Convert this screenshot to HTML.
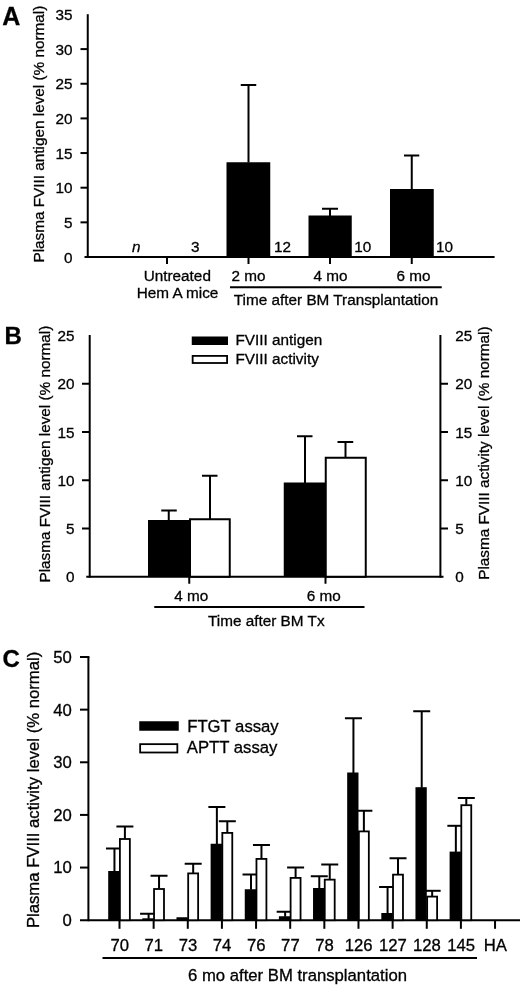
<!DOCTYPE html>
<html><head><meta charset="utf-8"><style>
html,body{margin:0;padding:0;background:#fff;}
svg{display:block;filter:blur(0.35px);}
text{font-family:"Liberation Sans", sans-serif;fill:#000;stroke:#000;stroke-width:0.3px;}
</style></head><body>
<svg width="520" height="990" viewBox="0 0 520 990">
<rect width="520" height="990" fill="#fff"/>
<text transform="translate(2.2,24.8)" font-size="25" text-anchor="start" font-weight="bold">A</text>
<line x1="87.75" y1="14.2" x2="87.75" y2="258.0" stroke="#000" stroke-width="2"/>
<line x1="80.5" y1="222.35" x2="87.75" y2="222.35" stroke="#000" stroke-width="2"/>
<line x1="80.5" y1="187.7" x2="87.75" y2="187.7" stroke="#000" stroke-width="2"/>
<line x1="80.5" y1="153.05" x2="87.75" y2="153.05" stroke="#000" stroke-width="2"/>
<line x1="80.5" y1="118.4" x2="87.75" y2="118.4" stroke="#000" stroke-width="2"/>
<line x1="80.5" y1="83.75" x2="87.75" y2="83.75" stroke="#000" stroke-width="2"/>
<line x1="80.5" y1="49.1" x2="87.75" y2="49.1" stroke="#000" stroke-width="2"/>
<text transform="translate(72.6,262.6)" font-size="15.3" text-anchor="end" >0</text>
<text transform="translate(72.6,227.95)" font-size="15.3" text-anchor="end" >5</text>
<text transform="translate(72.6,193.3)" font-size="15.3" text-anchor="end" >10</text>
<text transform="translate(72.6,158.65)" font-size="15.3" text-anchor="end" >15</text>
<text transform="translate(72.6,124.0)" font-size="15.3" text-anchor="end" >20</text>
<text transform="translate(72.6,89.35)" font-size="15.3" text-anchor="end" >25</text>
<text transform="translate(72.6,54.7)" font-size="15.3" text-anchor="end" >30</text>
<text transform="translate(72.6,20.05)" font-size="15.3" text-anchor="end" >35</text>
<line x1="84.5" y1="257.0" x2="494.6" y2="257.0" stroke="#000" stroke-width="2"/>
<line x1="167" y1="257.0" x2="167" y2="264" stroke="#000" stroke-width="2"/>
<line x1="248.5" y1="257.0" x2="248.5" y2="264" stroke="#000" stroke-width="2"/>
<line x1="330" y1="257.0" x2="330" y2="264" stroke="#000" stroke-width="2"/>
<line x1="411.75" y1="257.0" x2="411.75" y2="264" stroke="#000" stroke-width="2"/>
<text transform="translate(44.0,262.5) rotate(-90)" font-size="15.3" text-anchor="start">Plasma FVIII antigen level (% normal)</text>
<rect x="226.5" y="162.25" width="43.75" height="94.75" fill="#000"/>
<rect x="308.5" y="215.5" width="43.25" height="41.5" fill="#000"/>
<rect x="390" y="189" width="43.75" height="68.0" fill="#000"/>
<line x1="248.5" y1="162.5" x2="248.5" y2="85" stroke="#000" stroke-width="2"/>
<line x1="240.75" y1="85" x2="256.25" y2="85" stroke="#000" stroke-width="2"/>
<line x1="330" y1="216" x2="330" y2="208.75" stroke="#000" stroke-width="2"/>
<line x1="322" y1="208.75" x2="338" y2="208.75" stroke="#000" stroke-width="2"/>
<line x1="411.75" y1="189.5" x2="411.75" y2="155.5" stroke="#000" stroke-width="2"/>
<line x1="404" y1="155.5" x2="419.25" y2="155.5" stroke="#000" stroke-width="2"/>
<text transform="translate(132.0,251.8)" font-size="15.3" text-anchor="start" font-style="italic">n</text>
<text transform="translate(191,251.8)" font-size="15.3" text-anchor="start" >3</text>
<text transform="translate(274,251.8)" font-size="15.3" text-anchor="start" >12</text>
<text transform="translate(354.2,251.8)" font-size="15.3" text-anchor="start" >10</text>
<text transform="translate(436,251.8)" font-size="15.3" text-anchor="start" >10</text>
<text transform="translate(177.3,280.6)" font-size="15.3" text-anchor="middle" >Untreated</text>
<text transform="translate(177.5,297.6)" font-size="15.3" text-anchor="middle" >Hem A mice</text>
<text transform="translate(248.6,280.6)" font-size="15.3" text-anchor="middle" >2 mo</text>
<text transform="translate(330.5,280.6)" font-size="15.3" text-anchor="middle" >4 mo</text>
<text transform="translate(413.6,280.6)" font-size="15.3" text-anchor="middle" >6 mo</text>
<line x1="230" y1="287.2" x2="441.75" y2="287.2" stroke="#000" stroke-width="2"/>
<text transform="translate(336,304.6)" font-size="15.3" text-anchor="middle" >Time after BM Transplantation</text>
<text transform="translate(4.6,343.5)" font-size="24" text-anchor="start" font-weight="bold">B</text>
<line x1="89.7" y1="335" x2="89.7" y2="577.75" stroke="#000" stroke-width="2"/>
<line x1="440.4" y1="335" x2="440.4" y2="577.75" stroke="#000" stroke-width="2"/>
<line x1="82" y1="528.5" x2="89.7" y2="528.5" stroke="#000" stroke-width="2"/>
<line x1="440.4" y1="528.5" x2="448" y2="528.5" stroke="#000" stroke-width="2"/>
<line x1="82" y1="480.25" x2="89.7" y2="480.25" stroke="#000" stroke-width="2"/>
<line x1="440.4" y1="480.25" x2="448" y2="480.25" stroke="#000" stroke-width="2"/>
<line x1="82" y1="432.0" x2="89.7" y2="432.0" stroke="#000" stroke-width="2"/>
<line x1="440.4" y1="432.0" x2="448" y2="432.0" stroke="#000" stroke-width="2"/>
<line x1="82" y1="383.75" x2="89.7" y2="383.75" stroke="#000" stroke-width="2"/>
<line x1="440.4" y1="383.75" x2="448" y2="383.75" stroke="#000" stroke-width="2"/>
<text transform="translate(74.4,582.35)" font-size="15.3" text-anchor="end" >0</text>
<text transform="translate(455.2,582.35)" font-size="15.3" text-anchor="start" >0</text>
<text transform="translate(74.4,534.1)" font-size="15.3" text-anchor="end" >5</text>
<text transform="translate(455.2,534.1)" font-size="15.3" text-anchor="start" >5</text>
<text transform="translate(74.4,485.85)" font-size="15.3" text-anchor="end" >10</text>
<text transform="translate(455.2,485.85)" font-size="15.3" text-anchor="start" >10</text>
<text transform="translate(74.4,437.6)" font-size="15.3" text-anchor="end" >15</text>
<text transform="translate(455.2,437.6)" font-size="15.3" text-anchor="start" >15</text>
<text transform="translate(74.4,389.35)" font-size="15.3" text-anchor="end" >20</text>
<text transform="translate(455.2,389.35)" font-size="15.3" text-anchor="start" >20</text>
<text transform="translate(74.4,341.1)" font-size="15.3" text-anchor="end" >25</text>
<text transform="translate(455.2,341.1)" font-size="15.3" text-anchor="start" >25</text>
<line x1="86.25" y1="576.75" x2="443.5" y2="576.75" stroke="#000" stroke-width="2"/>
<line x1="189.25" y1="576.75" x2="189.25" y2="583.75" stroke="#000" stroke-width="2"/>
<line x1="325.5" y1="576.75" x2="325.5" y2="583.75" stroke="#000" stroke-width="2"/>
<text transform="translate(50.0,582.5) rotate(-90)" font-size="15.3" text-anchor="start">Plasma FVIII antigen level (% normal)</text>
<text transform="translate(489.0,579.8) rotate(-90)" font-size="15.3" text-anchor="start">Plasma FVIII activity level (% normal)</text>
<rect x="191.75" y="336.5" width="36.25" height="8.5" fill="#000"/>
<rect x="192.65" y="355.9" width="34.45" height="7.1" fill="#fff" stroke="#000" stroke-width="1.8"/>
<text transform="translate(235.5,345.3)" font-size="15.3" text-anchor="start" >FVIII antigen</text>
<text transform="translate(235.5,363.6)" font-size="15.3" text-anchor="start" >FVIII activity</text>
<line x1="168.75" y1="520.5" x2="168.75" y2="510.5" stroke="#000" stroke-width="2"/>
<line x1="161.25" y1="510.5" x2="176.75" y2="510.5" stroke="#000" stroke-width="2"/>
<line x1="210" y1="519" x2="210" y2="475.75" stroke="#000" stroke-width="2"/>
<line x1="202" y1="475.75" x2="217.5" y2="475.75" stroke="#000" stroke-width="2"/>
<rect x="148" y="520" width="41.5" height="56.75" fill="#000"/>
<rect x="190.0" y="519.25" width="39.75" height="57.5" fill="#fff" stroke="#000" stroke-width="2"/>
<line x1="305" y1="483" x2="305" y2="436.25" stroke="#000" stroke-width="2"/>
<line x1="297" y1="436.25" x2="312.5" y2="436.25" stroke="#000" stroke-width="2"/>
<line x1="345.5" y1="457" x2="345.5" y2="442" stroke="#000" stroke-width="2"/>
<line x1="337.5" y1="442" x2="353.25" y2="442" stroke="#000" stroke-width="2"/>
<rect x="283.75" y="482.5" width="41.75" height="94.25" fill="#000"/>
<rect x="325.75" y="457.75" width="40.0" height="119.0" fill="#fff" stroke="#000" stroke-width="2"/>
<text transform="translate(191.3,600.6)" font-size="15.3" text-anchor="middle" >4 mo</text>
<text transform="translate(323.8,600.6)" font-size="15.3" text-anchor="middle" >6 mo</text>
<line x1="154.25" y1="607" x2="364.5" y2="607" stroke="#000" stroke-width="2"/>
<text transform="translate(266.3,626.4)" font-size="15.3" text-anchor="middle" >Time after BM Tx</text>
<text transform="translate(2.6,666.8)" font-size="24" text-anchor="start" font-weight="bold">C</text>
<line x1="88.4" y1="657" x2="88.4" y2="921.2" stroke="#000" stroke-width="2"/>
<line x1="80" y1="867.56" x2="88.4" y2="867.56" stroke="#000" stroke-width="2"/>
<line x1="80" y1="814.92" x2="88.4" y2="814.92" stroke="#000" stroke-width="2"/>
<line x1="80" y1="762.28" x2="88.4" y2="762.28" stroke="#000" stroke-width="2"/>
<line x1="80" y1="709.64" x2="88.4" y2="709.64" stroke="#000" stroke-width="2"/>
<line x1="80" y1="657.0" x2="89.4" y2="657.0" stroke="#000" stroke-width="2"/>
<text transform="translate(71.9,926.1)" font-size="16.7" text-anchor="end" >0</text>
<text transform="translate(71.9,873.46)" font-size="16.7" text-anchor="end" >10</text>
<text transform="translate(71.9,820.82)" font-size="16.7" text-anchor="end" >20</text>
<text transform="translate(71.9,768.18)" font-size="16.7" text-anchor="end" >30</text>
<text transform="translate(71.9,715.54)" font-size="16.7" text-anchor="end" >40</text>
<text transform="translate(71.9,662.9)" font-size="16.7" text-anchor="end" >50</text>
<text transform="translate(39.2,928.1) rotate(-90)" font-size="16.7" text-anchor="start">Plasma FVIII activity level (% normal)</text>
<line x1="80" y1="920.2" x2="520" y2="920.2" stroke="#000" stroke-width="2"/>
<rect x="139.25" y="721.25" width="39.5" height="9.5" fill="#000"/>
<rect x="140.15" y="744.15" width="37.2" height="8.35" fill="#fff" stroke="#000" stroke-width="1.8"/>
<text transform="translate(187.2,731.8)" font-size="16.7" text-anchor="start" >FTGT assay</text>
<text transform="translate(186.8,753)" font-size="16.7" text-anchor="start" >APTT assay</text>
<line x1="119.5" y1="920.2" x2="119.5" y2="928.8" stroke="#000" stroke-width="2"/>
<text transform="translate(119.7,951.4)" font-size="16.7" text-anchor="middle" >70</text>
<line x1="114.45" y1="871.5" x2="114.45" y2="848.5" stroke="#000" stroke-width="2"/>
<line x1="105.95" y1="848.5" x2="122.95" y2="848.5" stroke="#000" stroke-width="2"/>
<rect x="108.2" y="871" width="11.3" height="49.2" fill="#000"/>
<line x1="124.9" y1="838.6" x2="124.9" y2="826.5" stroke="#000" stroke-width="2"/>
<line x1="116.4" y1="826.5" x2="133.4" y2="826.5" stroke="#000" stroke-width="2"/>
<rect x="119.9" y="839.0" width="9.95" height="81.2" fill="#fff" stroke="#000" stroke-width="1.8"/>
<line x1="153.64" y1="920.2" x2="153.64" y2="928.8" stroke="#000" stroke-width="2"/>
<text transform="translate(153.84,951.4)" font-size="16.7" text-anchor="middle" >71</text>
<line x1="148.59" y1="918.8" x2="148.59" y2="913.75" stroke="#000" stroke-width="2"/>
<line x1="140.09" y1="913.75" x2="157.09" y2="913.75" stroke="#000" stroke-width="2"/>
<rect x="142.34" y="918.3" width="11.3" height="1.9" fill="#000"/>
<line x1="159.04" y1="888.6" x2="159.04" y2="875.75" stroke="#000" stroke-width="2"/>
<line x1="150.54" y1="875.75" x2="167.54" y2="875.75" stroke="#000" stroke-width="2"/>
<rect x="154.04" y="889.0" width="9.95" height="31.2" fill="#fff" stroke="#000" stroke-width="1.8"/>
<line x1="187.78" y1="920.2" x2="187.78" y2="928.8" stroke="#000" stroke-width="2"/>
<text transform="translate(187.98,951.4)" font-size="16.7" text-anchor="middle" >73</text>
<rect x="176.48" y="917.25" width="11.3" height="2.95" fill="#000"/>
<line x1="193.18" y1="873.0" x2="193.18" y2="863.75" stroke="#000" stroke-width="2"/>
<line x1="184.68" y1="863.75" x2="201.68" y2="863.75" stroke="#000" stroke-width="2"/>
<rect x="188.18" y="873.4" width="9.95" height="46.8" fill="#fff" stroke="#000" stroke-width="1.8"/>
<line x1="221.92" y1="920.2" x2="221.92" y2="928.8" stroke="#000" stroke-width="2"/>
<text transform="translate(222.12,951.4)" font-size="16.7" text-anchor="middle" >74</text>
<line x1="216.87" y1="844.25" x2="216.87" y2="807" stroke="#000" stroke-width="2"/>
<line x1="208.37" y1="807" x2="225.37" y2="807" stroke="#000" stroke-width="2"/>
<rect x="210.62" y="843.75" width="11.3" height="76.45" fill="#000"/>
<line x1="227.32" y1="832.5" x2="227.32" y2="821.25" stroke="#000" stroke-width="2"/>
<line x1="218.82" y1="821.25" x2="235.82" y2="821.25" stroke="#000" stroke-width="2"/>
<rect x="222.32" y="832.9" width="9.95" height="87.3" fill="#fff" stroke="#000" stroke-width="1.8"/>
<line x1="256.06" y1="920.2" x2="256.06" y2="928.8" stroke="#000" stroke-width="2"/>
<text transform="translate(256.26,951.4)" font-size="16.7" text-anchor="middle" >76</text>
<line x1="251.01" y1="889.75" x2="251.01" y2="874.5" stroke="#000" stroke-width="2"/>
<line x1="242.51" y1="874.5" x2="259.51" y2="874.5" stroke="#000" stroke-width="2"/>
<rect x="244.76" y="889.25" width="11.3" height="30.95" fill="#000"/>
<line x1="261.46" y1="858.5" x2="261.46" y2="845" stroke="#000" stroke-width="2"/>
<line x1="252.96" y1="845" x2="269.96" y2="845" stroke="#000" stroke-width="2"/>
<rect x="256.46" y="858.9" width="9.95" height="61.3" fill="#fff" stroke="#000" stroke-width="1.8"/>
<line x1="290.2" y1="920.2" x2="290.2" y2="928.8" stroke="#000" stroke-width="2"/>
<text transform="translate(290.4,951.4)" font-size="16.7" text-anchor="middle" >77</text>
<line x1="285.15" y1="916.75" x2="285.15" y2="911.75" stroke="#000" stroke-width="2"/>
<line x1="276.65" y1="911.75" x2="293.65" y2="911.75" stroke="#000" stroke-width="2"/>
<rect x="278.9" y="916.25" width="11.3" height="3.95" fill="#000"/>
<line x1="295.6" y1="877.5" x2="295.6" y2="867.5" stroke="#000" stroke-width="2"/>
<line x1="287.1" y1="867.5" x2="304.1" y2="867.5" stroke="#000" stroke-width="2"/>
<rect x="290.6" y="877.9" width="9.95" height="42.3" fill="#fff" stroke="#000" stroke-width="1.8"/>
<line x1="324.34" y1="920.2" x2="324.34" y2="928.8" stroke="#000" stroke-width="2"/>
<text transform="translate(324.54,951.4)" font-size="16.7" text-anchor="middle" >78</text>
<line x1="319.29" y1="888.5" x2="319.29" y2="876.25" stroke="#000" stroke-width="2"/>
<line x1="310.79" y1="876.25" x2="327.79" y2="876.25" stroke="#000" stroke-width="2"/>
<rect x="313.04" y="888" width="11.3" height="32.2" fill="#000"/>
<line x1="329.74" y1="879.25" x2="329.74" y2="864.5" stroke="#000" stroke-width="2"/>
<line x1="321.24" y1="864.5" x2="338.24" y2="864.5" stroke="#000" stroke-width="2"/>
<rect x="324.74" y="879.65" width="9.95" height="40.55" fill="#fff" stroke="#000" stroke-width="1.8"/>
<line x1="358.48" y1="920.2" x2="358.48" y2="928.8" stroke="#000" stroke-width="2"/>
<text transform="translate(358.68,951.4)" font-size="16.7" text-anchor="middle" >126</text>
<line x1="353.43" y1="773.0" x2="353.43" y2="718.25" stroke="#000" stroke-width="2"/>
<line x1="344.93" y1="718.25" x2="361.93" y2="718.25" stroke="#000" stroke-width="2"/>
<rect x="347.18" y="772.5" width="11.3" height="147.7" fill="#000"/>
<line x1="363.88" y1="831.0" x2="363.88" y2="810.75" stroke="#000" stroke-width="2"/>
<line x1="355.38" y1="810.75" x2="372.38" y2="810.75" stroke="#000" stroke-width="2"/>
<rect x="358.88" y="831.4" width="9.95" height="88.8" fill="#fff" stroke="#000" stroke-width="1.8"/>
<line x1="392.62" y1="920.2" x2="392.62" y2="928.8" stroke="#000" stroke-width="2"/>
<text transform="translate(392.82,951.4)" font-size="16.7" text-anchor="middle" >127</text>
<line x1="387.57" y1="913.5" x2="387.57" y2="887" stroke="#000" stroke-width="2"/>
<line x1="379.07" y1="887" x2="396.07" y2="887" stroke="#000" stroke-width="2"/>
<rect x="381.32" y="913" width="11.3" height="7.2" fill="#000"/>
<line x1="398.02" y1="874.25" x2="398.02" y2="858.25" stroke="#000" stroke-width="2"/>
<line x1="389.52" y1="858.25" x2="406.52" y2="858.25" stroke="#000" stroke-width="2"/>
<rect x="393.02" y="874.65" width="9.95" height="45.55" fill="#fff" stroke="#000" stroke-width="1.8"/>
<line x1="426.76" y1="920.2" x2="426.76" y2="928.8" stroke="#000" stroke-width="2"/>
<text transform="translate(426.96,951.4)" font-size="16.7" text-anchor="middle" >128</text>
<line x1="421.71" y1="787.7" x2="421.71" y2="711.25" stroke="#000" stroke-width="2"/>
<line x1="413.21" y1="711.25" x2="430.21" y2="711.25" stroke="#000" stroke-width="2"/>
<rect x="415.46" y="787.2" width="11.3" height="133.0" fill="#000"/>
<line x1="432.16" y1="896.2" x2="432.16" y2="890.8" stroke="#000" stroke-width="2"/>
<line x1="423.66" y1="890.8" x2="440.66" y2="890.8" stroke="#000" stroke-width="2"/>
<rect x="427.16" y="896.6" width="9.95" height="23.6" fill="#fff" stroke="#000" stroke-width="1.8"/>
<line x1="460.9" y1="920.2" x2="460.9" y2="928.8" stroke="#000" stroke-width="2"/>
<text transform="translate(461.1,951.4)" font-size="16.7" text-anchor="middle" >145</text>
<line x1="455.85" y1="852.1" x2="455.85" y2="825.8" stroke="#000" stroke-width="2"/>
<line x1="447.35" y1="825.8" x2="464.35" y2="825.8" stroke="#000" stroke-width="2"/>
<rect x="449.6" y="851.6" width="11.3" height="68.6" fill="#000"/>
<line x1="466.3" y1="804.8" x2="466.3" y2="798" stroke="#000" stroke-width="2"/>
<line x1="457.8" y1="798" x2="474.8" y2="798" stroke="#000" stroke-width="2"/>
<rect x="461.3" y="805.2" width="9.95" height="115" fill="#fff" stroke="#000" stroke-width="1.8"/>
<line x1="495.04" y1="920.2" x2="495.04" y2="928.8" stroke="#000" stroke-width="2"/>
<text transform="translate(495.24,951.4)" font-size="16.7" text-anchor="middle" >HA</text>
<line x1="102.5" y1="958.1" x2="477" y2="958.1" stroke="#000" stroke-width="2"/>
<text transform="translate(297.5,981.2)" font-size="16.7" text-anchor="middle" >6 mo after BM transplantation</text>
</svg>
</body></html>
